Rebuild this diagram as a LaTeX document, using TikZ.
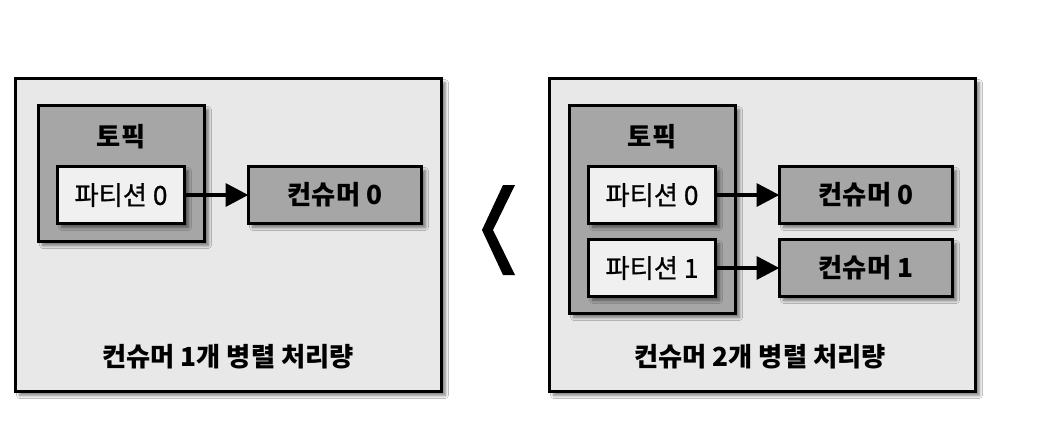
\documentclass[tikz,border=0pt]{standalone}
\usepackage{fontspec}
\setmainfont{Noto Sans CJK KR}
\newfontfamily\medfont{Noto Sans CJK KR}[FakeBold=0.9]
\usetikzlibrary{arrows.meta,shadows.blur}
\definecolor{outerfill}{HTML}{E8E8E8}
\definecolor{darkfill}{HTML}{A6A6A6}
\definecolor{lightfill}{HTML}{F0F0F0}
\tikzset{
  base/.style={draw=black, line width=2.2pt, inner sep=0pt,
    font=\fontsize{19.7}{21}\selectfont,
    blur shadow={shadow xshift=3pt, shadow yshift=-3pt, shadow blur steps=8, shadow opacity=50}},
  outerbox/.style={base, fill=outerfill, minimum width=319.5pt, minimum height=234.75pt},
  topicbox/.style={base, fill=darkfill, minimum width=124.5pt},
  partbox/.style={base, fill=lightfill, minimum width=95.25pt, minimum height=42.75pt, font=\fontsize{19.7}{21}\medfont},
  consbox/.style={base, fill=darkfill, minimum width=129.75pt, minimum height=42.75pt, font=\fontsize{19.7}{21}\selectfont\bfseries},
  lbl/.style={inner sep=0pt, font=\fontsize{19.7}{21}\selectfont\bfseries},
  arr/.style={line width=3pt, -{Triangle[length=17pt, width=17pt]}, shorten >=-1pt}
}
\begin{document}
\begin{tikzpicture}[x=0.75pt, y=-0.75pt]
\useasboundingbox[fill=white] (0,0) rectangle (1046,426);
% left panel
\node[outerbox] (L) at (228.5,235) {};
\node[topicbox, minimum height=102pt] (Lt) at (121.5,173.5) {};
\node[lbl] (Ltl) at (121,137) {토픽};
\node[partbox] (Lp0) at (121,195) {파티션 0};
\node[consbox] (Lc0) at (335,195) {컨슈머 0};
\node[lbl] (Lb) at (228,357) {컨슈머 1개 병렬 처리량};
\draw[arr] (Lp0.east) -- (Lc0.west);
% chevron
\fill (503,185) -- (515,185) -- (493,230) -- (515,275) -- (503,275) -- (482,230) -- cycle;
% right panel
\node[outerbox] (R) at (762.5,235) {};
\node[topicbox, minimum height=156pt] (Rt) at (652.5,209.5) {};
\node[lbl] (Rtl) at (652,137) {토픽};
\node[partbox] (Rp0) at (652,195) {파티션 0};
\node[partbox] (Rp1) at (652,268) {파티션 1};
\node[consbox] (Rc0) at (866,195) {컨슈머 0};
\node[consbox] (Rc1) at (866,268) {컨슈머 1};
\node[lbl] (Rb) at (760,357) {컨슈머 2개 병렬 처리량};
\draw[arr] (Rp0.east) -- (Rc0.west);
\draw[arr] (Rp1.east) -- (Rc1.west);
\end{tikzpicture}
\end{document}
